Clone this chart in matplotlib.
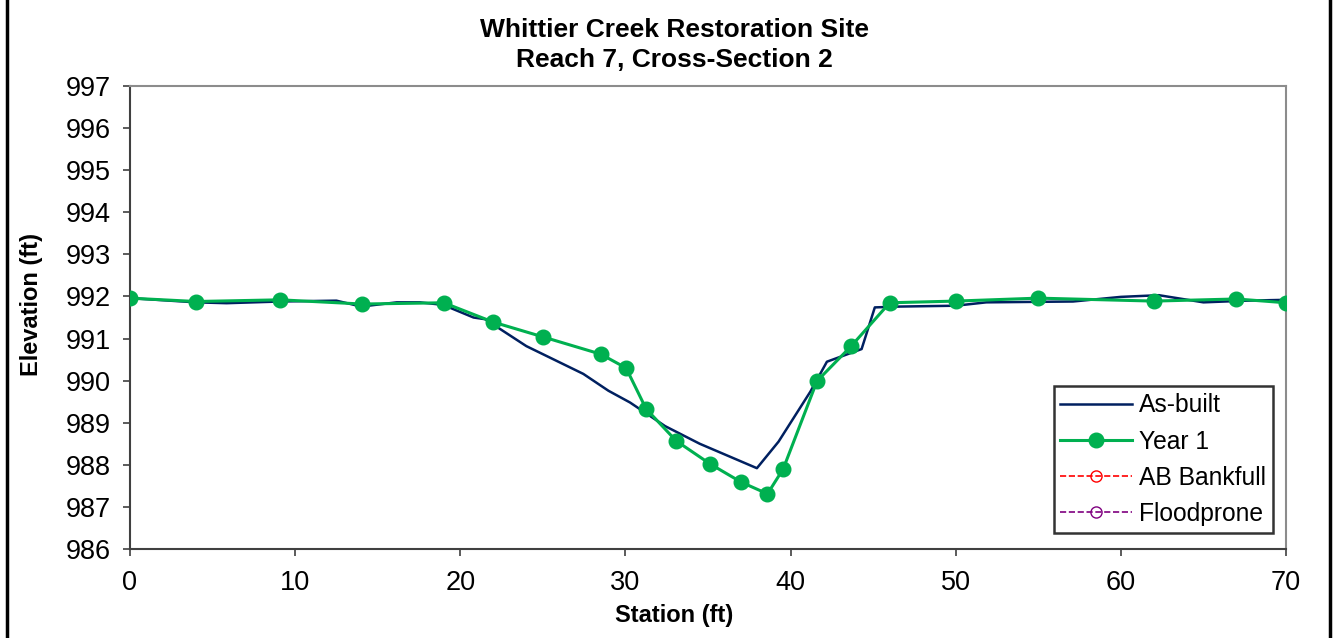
import matplotlib
matplotlib.use('Agg')
import matplotlib.pyplot as plt
from matplotlib.lines import Line2D

plt.rcParams['font.family'] = ['Liberation Sans', 'DejaVu Sans']

# As-built survey
asbuilt_x = [0, 4.0, 5.85, 9.1, 12.5, 14.0, 16.15, 17.55, 18.96, 20.8, 21.5, 24.0,
             27.45, 28.97, 30.28, 32.4, 34.5, 37.96, 39.27, 41.2, 42.2, 44.3, 45.1,
             46.6, 50.0, 51.85, 57.1, 60.0, 62.3, 65.0, 67.6, 70.0]
asbuilt_y = [991.96, 991.86, 991.84, 991.88, 991.90, 991.76, 991.86, 991.86, 991.80,
             991.50, 991.46, 990.82, 990.16, 989.76, 989.48, 988.92, 988.50, 987.92,
             988.55, 989.74, 990.45, 990.75, 991.74, 991.76, 991.78, 991.86, 991.88,
             991.99, 992.03, 991.86, 991.90, 991.92]

# Year 1 survey
year1_x = [0, 4.0, 9.1, 14.05, 19.0, 22.0, 25.0, 28.5, 30.04, 31.25, 33.07, 35.13,
           37.0, 38.6, 39.55, 41.6, 43.67, 46.0, 50.0, 55.0, 62.0, 67.0, 70.0]
year1_y = [991.96, 991.88, 991.92, 991.82, 991.85, 991.39, 991.04, 990.63, 990.30,
           989.33, 988.57, 988.02, 987.59, 987.31, 987.90, 989.99, 990.82, 991.85,
           991.89, 991.96, 991.89, 991.94, 991.85]

xticks = [0, 10, 20, 30, 40, 50, 60, 70]
yticks = list(range(986, 998))

fig = plt.figure(figsize=(13.36, 6.38), dpi=100)
ax = fig.add_axes([0.0973, 0.1395, 0.8653, 0.7257])

ax.plot(asbuilt_x, asbuilt_y, color='#002060', lw=1.8, label='As-built', zorder=3)
ax.plot(year1_x, year1_y, color='#00B050', lw=2.2, marker='o', ms=10.5,
        label='Year 1', zorder=4)
ax.plot([], [], color='red', lw=1.2, ls='--', marker='o', ms=8, mfc='none',
        label='AB Bankfull')
ax.plot([], [], color='#7F007F', lw=1.2, ls='--', marker='o', ms=8, mfc='none',
        label='Floodprone')

ax.set_xlim(0, 70)
ax.set_ylim(986, 997)
ax.set_xticks(xticks)
ax.set_yticks(yticks)
ax.tick_params(labelsize=19.5, direction='out', length=5, width=1.2, color='#404040')
ax.tick_params(axis='x', pad=10)
ax.tick_params(axis='y', pad=9)
for s in ['left', 'bottom']:
    ax.spines[s].set_color('#404040')
    ax.spines[s].set_linewidth(1.5)
for s in ['top', 'right']:
    ax.spines[s].set_color('#8c8c8c')
    ax.spines[s].set_linewidth(1.5)

# title and axis labels are centred on the chart area, not the plot area
fig.text(0.5045, 0.9295, 'Whittier Creek Restoration Site\nReach 7, Cross-Section 2',
         fontsize=19, fontweight='bold', ha='center', va='center', linespacing=1.33)
ax.set_xlabel('Station (ft)', fontsize=17, fontweight='bold', labelpad=6)
ax.xaxis.label.set_x((674 - 130) / 1156)
ax.set_ylabel('Elevation (ft)', fontsize=17, fontweight='bold', labelpad=16)
ax.yaxis.label.set_y((549 - 304) / 463)

leg = ax.legend(loc='lower right', bbox_to_anchor=(0.9887, 0.0346), borderaxespad=0,
                fontsize=17.7, frameon=True, fancybox=False, edgecolor='black',
                handlelength=2.9, handletextpad=0.3, borderpad=0.28,
                labelspacing=0.5)
leg.get_frame().set_linewidth(1.8)

# outer chart border (left and right)
fig.add_artist(Line2D([0.0055, 0.0055], [0, 1], color='black', lw=2.5))
fig.add_artist(Line2D([0.9955, 0.9955], [0, 1], color='black', lw=2.5))

fig.savefig('out.png', dpi=100)
